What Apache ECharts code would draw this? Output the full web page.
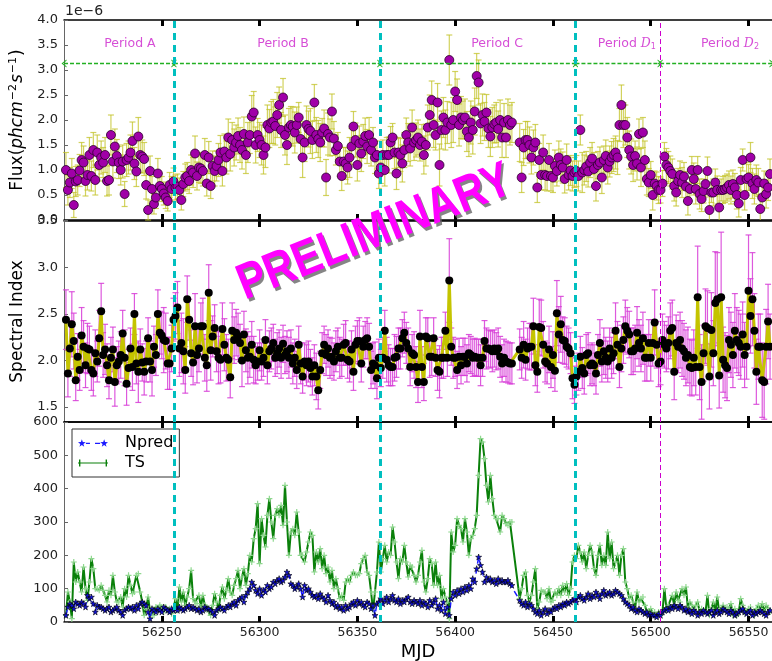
<!DOCTYPE html>
<html>
<head>
<meta charset="utf-8">
<script src="https://cdn.jsdelivr.net/npm/echarts@6/dist/echarts.min.js"></script>
<style>
  html, body { margin: 0; padding: 0; background: #fff; }
  #chart { width: 772px; height: 661px; }
</style>
</head>
<body>
<div id="chart"></div>
<script>
// daily bins, first bin at MJD 56201
const mjdStart = 56201;

// photon flux, units of 1e-6 ph cm^-2 s^-1
const fluxValues = [
  1.0,0.6,0.75,0.93,0.3,0.77,0.8,0.99,1.2,1.15, 0.78,0.9,1.3,0.88,1.4,0.8,1.35,1.1,1.25,1.15,
  1.3,0.78,0.8,1.7,1.17,1.47,1.28,1.15,1.0,1.17, 0.52,1.2,1.25,1.35,1.58,1.13,0.97,1.67,1.3,1.27,
  1.22,0.7,0.2,0.98,0.62,0.32,0.45,0.93,0.68,0.62, 0.53,0.45,0.38,0.7,0.62,0.77,0.65,0.67,0.6,0.4,
  0.72,0.85,0.88,0.78,1.0,0.95,1.33,0.88,1.05,1.03,0.98, 1.3,0.73,1.25,0.68,1.08,0.98,1.08,1.2,1.35,0.98,1.37,
  1.25,1.65,1.32,1.6,1.45,1.55,1.68,1.5,1.4,1.72,1.3,1.55,1.7, 2.07,2.15,
  1.5,1.7,1.6,
  1.5,1.3,1.45,1.9,1.83,1.95,1.97,1.88,2.1,2.3, 1.8,2.45,1.7,1.5,1.85,1.9,1.87,1.75,1.9,2.05,1.62,
  1.25,1.55,1.9,1.82,1.78,1.6,2.35,1.7,1.62,1.55,1.75, 1.83,0.85,1.72,1.65,2.17,1.63,1.4,1.48,1.17,0.88,1.17,
  1.13,1.05,1.25,1.47,1.87,1.6,1.1,1.53,1.33,1.57,1.68, 1.47,1.7,1.4,1.55,1.25,
  1.3,0.93,1.05,1.3,1.0,1.3,1.3,1.55,1.65,1.35, 0.93,1.35,1.3,1.13,1.4,1.7,1.55,1.43,1.85,1.55,
  1.6,1.65,1.5,1.57,1.3,1.5,1.85,2.1,2.4,1.9, 1.7,2.35,1.1,1.8,2.05,1.8,1.95,3.2,1.9,2.0,
  2.57,2.4,1.9,2.05,2.0,2.05,1.77,1.65,1.95,1.8, 2.17,2.88,2.75,1.93,2.1,1.97,2.15,1.83,1.67,1.85,
  1.92,1.95,1.82,2.0,1.65,1.95,
  1.65,2.0,1.9,1.95,null,null,null,1.55,0.85,1.45, 1.6,1.6,1.5,1.25,1.45,1.55,0.65,1.2,0.9,1.35,
  0.9,0.88,1.2,0.88,0.85,1.08,0.98,1.25,1.1,1.05, 0.82,1.2,0.9,0.99,0.88,0.95,0.98,0.88,1.8,0.95,
  1.0,1.07,0.97,1.15,1.23,1.02,0.68,1.1,1.15,0.85, 1.2,1.28,1.05,1.17,1.25,1.3,1.35,1.25,1.9,2.3,
  1.9,1.9,1.65,1.4,1.27,1.1,1.28,1.13,1.72,1.05, 1.75,1.2,0.82,0.75,0.9,0.5,0.73,0.68,0.6,0.6,
  0.73,1.27,1.1,1.05,0.98,0.92,0.68,0.55,0.78,0.9, 0.75,0.87,0.67,0.38,0.62,1.0,0.82,0.62,1.0,0.52,
  0.42,0.58,0.72,0.98,0.2,0.55,0.55,0.75,0.6,0.25, 0.6,0.6,0.62,0.65,0.7,0.6,0.72,0.65,0.5,0.33,
  0.8,1.2,0.5,0.82,0.85,1.25,0.73,0.62,0.8,0.75, 0.22,0.45,0.73,0.52,0.65,0.92
];
const fluxErrors = [
  0.35,0.3,0.3,0.3,0.25,0.3,0.3,0.32,0.35,0.33, 0.3,0.3,0.35,0.3,0.35,0.3,0.35,0.32,0.33,0.3,
  0.35,0.3,0.3,0.4,0.33,0.35,0.33,0.32,0.3,0.33, 0.25,0.33,0.33,0.35,0.38,0.32,0.3,0.38,0.35,0.33,
  0.33,0.28,0.2,0.3,0.25,0.2,0.22,0.3,0.25,0.25, 0.23,0.22,0.2,0.25,0.25,0.27,0.25,0.25,0.24,0.2,
  0.25,0.27,0.27,0.25,0.3,0.3,0.35,0.28,0.3,0.3, 0.3,0.33,0.25,0.32,0.25,0.3,0.3,0.3,0.33,0.34,
  0.3,0.35,0.33,0.37,0.34,0.35,0.37,0.35,0.36,0.35, 0.38,0.34,0.37,0.4,0.37,0.42,0.42,
  0.36,0.33,0.35,0.4,0.38,0.4,0.4,0.38,0.42,0.44, 0.38,0.45,0.36,0.35,0.38,0.4,0.39,0.38,0.37,0.39,
  0.41,0.36,0.3,0.35,0.4,0.38,0.38,0.36,0.45,0.37, 0.36,0.35,0.37,0.38,0.28,0.37,0.36,0.42,0.37,0.35,
  0.34,0.3,0.27,0.3,0.29,0.28,0.32,0.33,0.4,0.36, 0.3,0.34,0.32,0.35,0.36,0.34,0.36,0.34,0.35,0.32,
  0.3,0.32,0.28,0.3,0.32,0.3,0.32,0.35,0.36,0.32, 0.28,0.32,0.32,0.3,0.33,0.37,0.35,0.34,0.38,0.35,
  0.35,0.36,0.34,0.35,0.32,0.34,0.38,0.42,0.45,0.4, 0.38,0.45,0.3,0.38,0.42,0.38,0.4,0.4,0.42,0.5,
  0.45,0.45,0.4,0.42,0.42,0.42,0.38,0.37,0.4,0.38, 0.43,0.48,0.47,0.45,0.45,0.4,0.42,0.38,0.36,0.38,
  0.4,0.4,0.38,0.4,0.36,0.4,0.4,0.38,
  0.4,0.42,0.4,0.4,0,0,0,0.38,0.3,0.36, 0.37,0.37,0.36,0.33,0.35,0.36,0.3,0.33,0.3,0.35,
  0.3,0.3,0.33,0.3,0.3,0.32,0.3,0.33,0.32,0.31, 0.28,0.32,0.3,0.3,0.3,0.3,0.31,0.3,0.3,0.4,
  0.3,0.3,0.31,0.3,0.32,0.33,0.3,0.27,0.31,0.32, 0.28,0.32,0.33,0.31,0.32,0.33,0.33,0.34,0.33,0.4,
  0.45,0.4,0.4,0.38,0.35,0.33,0.3,0.33,0.3,0.38, 0.3,0.38,0.32,0.28,0.27,0.3,0.25,0.28,0.27,0.26,
  0.26,0.28,0.33,0.32,0.3,0.3,0.3,0.27,0.25,0.28, 0.3,0.28,0.3,0.28,0.24,0.27,0.32,0.3,0.27,0.3,
  0.25,0.24,0.26,0.28,0.3,0.2,0.27,0.27,0.28,0.27, 0.22,0.27,0.27,0.27,0.28,0.28,0.28,0.28,0.28,0.27,
  0.25,0.22,0.3,0.33,0.26,0.3,0.3,0.3,0.3,0.28, 0.28,0.22,0.25,0.28,0.26,0.3
];

// photon spectral index
const indexValues = [
  2.44,1.86,2.13,2.39,2.21,1.79,2.04,1.9,2.27,2.15, 1.95,2.13,2.12,1.9,1.86,2.08,1.99,2.24,2.53,
  2.06,2.12,1.95,1.79,2.03,2.12,1.77,1.95,1.99, 2.06,2.29,2.03,1.75,1.92,2.13,1.93,2.5,1.97,
  1.88,2.12,1.98,1.88,1.99,2.24,1.99,1.9,2.15, 2.06,2.5,2.3,2.27,2.22,2.21,1.97,1.97,2.13,2.44,
  2.48,2.57,2.13,2.19,2.1,1.9,2.66,2.44,2.08, 1.98,2.37,2.06,2.13,2.37,2.37,2.03,1.95,2.73,
  2.11,2.26,2.35,2.1,2.03,2.01,2.34,2.17,2.03,2.01, 1.82,2.32,2.22,2.3,2.26,2.19,2.0,2.28,2.11,
  2.03,2.04,2.17,2.01,
  1.95,1.99,2.11,1.99,2.03,2.22,1.95,2.1,2.13, 2.19,2.03,2.08,2.13,2.03,2.18,2.06,2.1,2.03,
  2.13,1.97,2.03,1.9,2.17,1.97,1.83,1.99,1.95, 1.99,1.92,1.83,1.95,1.83,1.68,1.9,2.08,2.17,2.06,
  2.13,2.03,2.04,1.99,2.1,2.15,2.03,2.03,2.17, 2.19,2.01,1.99,2.12,1.88,2.17,2.21,2.21,1.97,
  2.15,2.22,2.24,2.15,1.9,1.97,1.95,1.81,2.03,1.92, 2.03,2.32,2.01,1.95,1.93,1.93,2.03,2.04,2.13,
  2.13,2.24,2.3,2.19,2.13,1.93,2.08,2.06,1.93,1.77, 2.26,1.93,1.77,2.26,2.24,2.04,2.04,2.24,2.03,
  1.9,1.88,2.03,2.03,2.32,2.03,2.86,2.15,2.03,2.03, 1.9,2.04,1.95,2.04,2.04,1.97,2.08,2.06,
  2.03,2.04,2.03,2.03,1.95,2.03,2.21,2.13, 2.13,2.12,2.1,2.13,2.1,2.13,2.04,1.97,2.03,
  1.99,1.98,1.97,1.97,null,null,null,2.12,2.03,2.17, 2.01,2.13,2.15,2.15,2.37,1.95,1.88,2.36,2.35,2.17,
  1.99,1.97,2.12,1.93,2.06,1.89,2.51,2.28,2.39,2.22, 2.21,2.15,2.13,2.08,1.81,1.74,1.83,1.88,2.04,1.92,
  1.86,2.06,2.08,1.95,1.97,1.95,1.86,2.06,2.19,1.99, 2.1,2.03,1.99,2.13,2.03,2.08,2.32,2.17,1.93,2.13,
  2.22,2.37,2.32,2.28,2.1,2.1,2.13,2.3,2.19,2.13, 2.24,2.03,2.03,2.19,2.03,2.19,2.41,2.17,1.97,1.99,
  2.22,2.17,2.13,2.19,2.32,2.35,1.88,2.19,2.15,2.22, 2.13,2.1,2.03,2.06,1.93,1.92,2.03,1.93,2.68,1.93,
  1.77,2.08,2.37,2.35,1.83,2.33,2.08,2.62,2.66,1.84, 2.68,2.01,1.95,1.92,2.22,2.17,2.06,2.32,2.22,2.19,
  2.15,2.28,2.06,2.15,2.75,2.48,2.66,2.32,1.88,2.15, 2.15,1.79,1.77,2.15,2.42,2.15
];
const indexErrors = [
  0.32,0.25,0.3,0.35,0.3,0.22,0.25,0.22,0.3,0.28, 0.24,0.27,0.25,0.22,0.24,0.25,0.22,0.3,0.3,0.24,
  0.27,0.23,0.2,0.22,0.24,0.26,0.2,0.22,0.25,0.25, 0.3,0.23,0.2,0.22,0.25,0.22,0.22,0.33,0.22,0.2,
  0.25,0.22,0.22,0.22,0.28,0.22,0.22,0.26,0.23,0.25, 0.35,0.3,0.28,0.28,0.25,0.23,0.25,0.28,0.3,0.32,
  0.35,0.25,0.25,0.22,0.25,0.24,0.35,0.3,0.25,0.25, 0.3,0.25,0.28,0.3,0.32,0.22,0.25,0.22,0.28,0.25,
  0.28,0.28,0.25,0.22,0.22,0.3,0.25,0.25,0.25,0.2, 0.28,0.25,0.23,0.28,0.22,0.25,0.25,
  0.2,0.2,0.22,0.2,0.2,0.22,0.2,0.22,0.22,0.2, 0.2,0.22,0.2,0.22,0.2,0.2,0.22,0.22,0.2,0.22,
  0.2,0.2,0.2,0.22,0.18,0.2,0.22,0.22,0.2,0.2, 0.22,0.25,0.2,0.2,0.22,0.2,0.22,0.2,0.22,0.2,
  0.2,0.22,0.2,0.22,0.2,0.22,0.24,0.2,0.22,0.2, 0.2,0.2,0.22,0.25,0.2,0.22,0.2,0.22,0.25,0.2,
  0.22,0.25,0.22,0.2,0.2,0.22,0.22,0.24,0.22,0.2, 0.2,0.25,0.22,0.22,0.22,0.2,0.22,0.22,0.22,0.2,
  0.2,0.25,0.22,0.22,0.28,0.22,0.2,0.2,0.22,0.22, 0.2,0.22,0.2,0.22,0.28,0.22,0.22,0.2,0.2,0.45,
  0.2,0.22,0.2,0.2,0.2,0.2,0.2,0.2,0.2,0.2, 0.2,0.2,0.2,0.2,0.2,0.22,0.2,0.22,0.22,0.2,
  0.2,0.22,0.2,0.2,0.22,0.22,0.2,0.2,
  0.22,0.22,0.22,0.22,0,0,0,0.22,0.22,0.25, 0.22,0.22,0.25,0.25,0.3,0.22,0.22,0.3,0.3,0.25,
  0.22,0.22,0.25,0.22,0.25,0.22,0.35,0.3,0.3,0.25, 0.25,0.22,0.22,0.22,0.22,0.2,0.2,0.2,0.22,0.22,
  0.22,0.22,0.22,0.22,0.22,0.22,0.22,0.22,0.25,0.22, 0.25,0.22,0.22,0.22,0.22,0.22,0.3,0.25,0.22,0.25,
  0.25,0.28,0.25,0.25,0.25,0.25,0.25,0.28,0.25,0.25, 0.28,0.25,0.25,0.25,0.25,0.25,0.35,0.25,0.25,0.25,
  0.28,0.25,0.25,0.28,0.3,0.3,0.3,0.3,0.28,0.3, 0.3,0.3,0.3,0.3,0.3,0.3,0.3,0.3,0.55,0.35,
  0.4,0.3,0.4,0.4,0.35,0.4,0.35,0.55,0.5,0.35, 0.7,0.35,0.35,0.35,0.35,0.35,0.35,0.4,0.35,0.35,
  0.35,0.35,0.35,0.35,0.6,0.4,0.5,0.4,0.35,0.35, 0.35,0.4,0.4,0.4,0.4,0.35
];

// predicted counts and test statistic
const npredValues = [
  20,45,55,50,40,60,55,50,60,55,45, 80,70,75,55,30,50,45, 45,40,35,40,45,30,35,40,45,35,
  30,20,35,40,45,40,45,35,50,40, 55,60,55,50,30,10,40, 35,30,40,35,30,45,40,35,30,40,35,
  40,35,45,40,35,40,45,50,40,45,40,35,40,30,35,45,40, 40,35,30,20,35,40,45,40,35,45,
  50,45,55,60,50,65,70,75,60,80, 90,100,120,110,
  95,85,100,80,95,90,110,100, 105,120,115,125,130,120,125,135,150,140,
  115,110,100,105,115,100,75,110,95,100, 90,80,75,80,70,85,75,70,60,80,
  65,55,60,45,50,40,45,35,50,40, 45,55,60,50,65,55,60,50,45,60, 55,40,50,20,55,
  60,70,55,65,75,60,70,80,65,60, 70,55,65,60,70,75,60,55,65,60, 55,65,50,60,55,45,65,50,60,70,
  40,50,35,60,25,45,20, 70,90,80,95,85,100,90,105,95,110, 100,130,120,160,195,170,150,120,
  135,125,130,120,125,115,130,120,125,120,
  120,125,115,110,null,null,null, 65,55,50,60,45,55, 50,40,30,25,35,20,30,40,25,35,
  30,40,45,40,50,45,55,50,60,55, 60,65,70,60,75,80,70,65,75,85, 70,80,75,90,80,70,85,95,80,85,
  90,80,85,95,90,85,80,70,60,55, 50,40,45,35,30,40,35,30,25,30, 20,25,20,20,15,25,20,30,35,40,
  35,45,40,50,45,40,50,45,35,40, 30,35,25,35,30,20,30,25,35,30, 25,30,35,20,30,35,25,30,40,35,
  30,25,35,30,20,25,30,35,40,30, 25,30,35,20,30,25,30,35,30,25,20,30,35
];
const tsValues = [
  20,90,60,10,180,120,150,120,90,165, 100,65,120,190,160,100,100,95,110,
  95,80,60,95,80,140,90,60,60,75, 45,100,75,140,110,85,90,140,145,
  90,60,20,40,75,30,20,20,45,40, 50,45,30,45,35,40,25,40,70,
  35,105,60,90,50,75,100,155,70,60, 55,80,45,80,50,45,30,20,50,85,
  60,35,80,105,70,95,130,90,80,110, 130,155,100,135,160,110,145,200,180,250,
  280, 355,175,310,260,225,320,370,300,250,320,340, 320,350,290,410,300,200,270,280,260,330,270,
  200,200,180,210,240,270,260,150,210,180,220, 160,200,145,165,120,155,100,130,100,70,80,
  65,120,130,120,140,150,140,140,145,175,190, 200,150,140,90,35,90,150,240,150,
  190,230,180,210,200,285,240,180,130, 190,180,230,180,135,170,165,140,120,
  140,180,215,120,90,130,190,175,110, 180,110,140,70,100,75,60,10,
  270,210,230,310,290,280,240,310, 270,200,250,260,280,320,440,550,540,490,
  410,360,440,370,320,310,310,270,320,310,
  295,290,300,300,null,null,null,70,100,140, 150,80,60,80,120,160,40,60,95,90,
  90,70,100,60,65,90,80,100,80,110, 90,115,80,100,180,200,190,230,210,180,
  210,160,200,230,210,160,140,200,230,170, 200,170,270,190,240,160,180,200,140,200,
  220,120,100,70,80,60,40,90,60,70, 75,50,30,30,40,25,30,20,30,20,
  30,100,40,50,45,80,50,90,65,60, 100,80,105,40,60,50,40,50,60,30,
  40,35,30,80,20,40,60,30,75,30, 40,50,40,45,40,55,20,40,20,30,
  70,50,30,30,40,45,30,20,40,50, 40,55,30,50,40,30
];

// ticks and annotations
const mjdTicks = [56250, 56300, 56350, 56400, 56450, 56500, 56550];
const fluxTicks = [0, 0.5, 1.0, 1.5, 2.0, 2.5, 3.0, 3.5, 4.0];
const indexTicks = [1.5, 2.0, 2.5, 3.0, 3.5];
const countTicks = [0, 100, 200, 300, 400, 500, 600];
const cyanLines = [56256.2, 56361.5, 56461.5];
const dLine = 56504.8;
const periodEdges = [56200, 56256.2, 56361.5, 56461.5, 56504.8, 56562];
const periodNames = ['Period A', 'Period B', 'Period C', 'Period {i|D}{s|1}', 'Period {i|D}{s|2}'];
const periodLabelX = [56233.7, 56312, 56421.4, 56487.8, 56540.5];
const periodLabelY = 3.52;
const arrowY = 3.13;

const font = 'DejaVu Sans';
const starPath = 'path://M5,0L6.2,3.6L10,3.6L6.9,5.8L8.1,9.5L5,7.2L1.9,9.5L3.1,5.8L0,3.6L3.8,3.6Z';
const plusPath = 'path://M4,0H6V4H10V6H6V10H4V6H0V4H4Z';
const chevron = 'path://M0,10L5,0L10,10L8.4,10L5,3.2L1.6,10Z';
// legend icons drawn like matplotlib: marker at both ends of the line sample
const npredIcon = 'path://M4,1L4.94,3.71L7.8,3.76L5.52,5.49L6.35,8.24L4,6.6L1.65,8.24L2.48,5.49L0.2,3.76L3.06,3.71Z' +
  'M26,1L26.94,3.71L29.8,3.76L27.52,5.49L28.35,8.24L26,6.6L23.65,8.24L24.48,5.49L22.2,3.76L25.06,3.71Z' +
  'M8,4.3H12V5.7H8Z M17,4.3H22V5.7H17Z';
const tsIcon = 'path://M0,4.4H30V5.6H0Z M1,1.5H2.4V8.5H1Z M27.6,1.5H29V8.5H27.6Z';
const arrowGreen = '#22b022';

const mjd = fluxValues.map((_, i) => mjdStart + i);
function withErr(vals, errs) {
  const out = [];
  vals.forEach((v, i) => { if (v != null) out.push([mjd[i], v, errs[i]]); });
  return out;
}
function pairs(vals) {
  return vals.map((v, i) => [mjd[i], v]);
}

function errBars(color) {
  return function (params, api) {
    const x = api.value(0), y = api.value(1), e = api.value(2);
    const cs = params.coordSys;
    const hi = api.coord([x, y + e]), lo = api.coord([x, y - e]);
    const top = Math.max(hi[1], cs.y), bot = Math.min(lo[1], cs.y + cs.height);
    const st = { stroke: color, lineWidth: 1.2 };
    const kids = [{ type: 'line', shape: { x1: hi[0], y1: top, x2: hi[0], y2: bot }, style: st }];
    if (hi[1] >= cs.y) kids.push({ type: 'line', shape: { x1: hi[0] - 3, y1: hi[1], x2: hi[0] + 3, y2: hi[1] }, style: st });
    if (lo[1] <= cs.y + cs.height) kids.push({ type: 'line', shape: { x1: lo[0] - 3, y1: lo[1], x2: lo[0] + 3, y2: lo[1] }, style: st });
    return { type: 'group', children: kids };
  };
}

function xAx(grid, pos, showLabels) {
  return {
    type: 'value', gridIndex: grid, position: pos, min: 56200, max: 56562,
    axisLine: { show: true, onZero: false, lineStyle: { color: '#000', width: 1.5 } },
    axisTick: { show: true, inside: true, length: 6, customValues: mjdTicks, lineStyle: { color: '#000', width: 3 } },
    axisLabel: {
      show: showLabels, customValues: mjdTicks, formatter: v => String(v),
      fontSize: 12.5, color: '#222', fontFamily: font, margin: 4
    },
    splitLine: { show: false }
  };
}
function yAx(grid, min, max, ticks, fmt, name, nameStyle) {
  return {
    type: 'value', gridIndex: grid, min: min, max: max,
    axisLine: { show: true, lineStyle: { color: '#666', width: 1 } },
    axisTick: { show: true, inside: true, length: 4, customValues: ticks, lineStyle: { color: '#666' } },
    axisLabel: { customValues: ticks, formatter: fmt, fontSize: 13, color: '#222', fontFamily: font, margin: 6 },
    splitLine: { show: false },
    name: name, nameLocation: 'middle', nameRotate: 90, nameGap: 33,
    nameTextStyle: nameStyle
  };
}

function vLines() {
  return {
    silent: true, symbol: 'none', animation: false, label: { show: false },
    data: cyanLines.map(x => ({ xAxis: x, lineStyle: { color: '#00bfbf', width: 3, type: [7, 5] } }))
      .concat([{ xAxis: dLine, lineStyle: { color: '#cc00cc', width: 1, type: [5, 3] } }])
  };
}

// one dashed double-headed arrow per period, drawn as a short line series
const arrowSeries = [];
for (let i = 0; i < periodEdges.length - 1; i++) {
  arrowSeries.push({
    type: 'line', name: 'arrow' + i, xAxisIndex: 0, yAxisIndex: 0, silent: true, z: 4,
    symbol: chevron, symbolSize: [8, 5], showSymbol: true,
    itemStyle: { color: arrowGreen },
    lineStyle: { color: arrowGreen, width: 1.3, type: [4, 2] },
    data: [
      { value: [periodEdges[i], arrowY], symbolRotate: 90 },
      { value: [periodEdges[i + 1], arrowY], symbolRotate: -90 }
    ]
  });
}

const watermarkFont = 'bold 50px "Liberation Sans"';

const chart = echarts.init(document.getElementById('chart'));
chart.setOption({
  animation: false,
  backgroundColor: '#fff',
  grid: [
    { left: 64, right: 0, top: 20, height: 200, outerBoundsMode: 'none' },
    { left: 64, right: 0, top: 221, height: 201, outerBoundsMode: 'none' },
    { left: 64, right: 0, top: 422, height: 200, outerBoundsMode: 'none' }
  ],
  xAxis: [
    xAx(0, 'bottom', false), xAx(0, 'top', false),
    xAx(1, 'bottom', false), xAx(1, 'top', false),
    Object.assign(xAx(2, 'bottom', true), {
      name: 'MJD', nameLocation: 'middle', nameGap: 21,
      nameTextStyle: { fontSize: 18, fontFamily: font, color: '#000' }
    }),
    xAx(2, 'top', false)
  ],
  yAxis: [
    yAx(0, 0, 4, fluxTicks, v => v.toFixed(1), '{t|Flux(}{m|phcm}{u|\u22122}{m|s}{u|\u22121}{t|)}', {
      rich: {
        t: { fontSize: 17, fontFamily: font, color: '#000' },
        m: { fontSize: 17, fontFamily: font, fontStyle: 'italic', color: '#000' },
        u: { fontSize: 11, fontFamily: font, color: '#000', padding: [0, 1, 10, 1] }
      }
    }),
    yAx(1, 1.34, 3.5, indexTicks, v => v.toFixed(1), 'Spectral Index', { fontSize: 17, fontFamily: font, color: '#000' }),
    yAx(2, 0, 600, countTicks, v => String(v), '', {})
  ],
  legend: {
    data: [
      { name: 'Npred', icon: npredIcon, itemStyle: { color: '#1a1aff', borderWidth: 0 } },
      { name: 'TS', icon: tsIcon, itemStyle: { color: '#0a800a', borderWidth: 0 } }
    ],
    orient: 'vertical', left: 72, top: 429,
    itemWidth: 30, itemHeight: 10, itemGap: 4, padding: [6, 6, 6, 6],
    borderColor: '#333', borderWidth: 1, backgroundColor: '#fff', borderRadius: 0,
    textStyle: { fontSize: 16, fontFamily: font, color: '#000', padding: [0, 4, 0, 12] }
  },
  graphic: [
    { type: 'text', left: 65, top: 4, style: { text: '1e\u22126', fontSize: 14, fontFamily: font, fill: '#222' } },
    { type: 'text', x: 377, y: 236, rotation: 0.38, scaleX: 0.85, z: 100,
      style: { text: 'PRELIMINARY', font: watermarkFont, fill: '#666', align: 'center', verticalAlign: 'middle', opacity: 0.8 } },
    { type: 'text', x: 375, y: 233, rotation: 0.38, scaleX: 0.85, z: 101,
      style: { text: 'PRELIMINARY', font: watermarkFont, fill: '#ff00ff', align: 'center', verticalAlign: 'middle' } }
  ],
  series: [
    {
      type: 'custom', name: 'fluxErr', xAxisIndex: 0, yAxisIndex: 0, silent: true,
      renderItem: errBars('rgba(195,195,40,0.75)'), data: withErr(fluxValues, fluxErrors), z: 2
    },
    {
      type: 'scatter', name: 'Flux', xAxisIndex: 0, yAxisIndex: 0, symbol: 'circle', symbolSize: 9,
      itemStyle: { color: '#a000a8', borderColor: '#2a002a', borderWidth: 0.8, opacity: 1 },
      data: pairs(fluxValues).filter(d => d[1] != null), z: 3, markLine: vLines()
    },
    {
      type: 'scatter', name: 'periods', xAxisIndex: 0, yAxisIndex: 0, symbolSize: 0.01, silent: true,
      itemStyle: { color: 'rgba(0,0,0,0)' },
      label: {
        show: true, position: 'inside', formatter: p => p.name, color: '#cc22cc', fontSize: 12.5, fontFamily: font,
        rich: {
          i: { fontSize: 12.5, fontStyle: 'italic', fontFamily: 'DejaVu Serif', color: '#cc22cc' },
          s: { fontSize: 8, fontFamily: font, color: '#cc22cc', padding: [6, 0, 0, 0] }
        }
      },
      data: periodNames.map((n, i) => ({ name: n, value: [periodLabelX[i], periodLabelY] }))
    },
    ...arrowSeries,
    {
      type: 'custom', name: 'indexErr', xAxisIndex: 2, yAxisIndex: 1, silent: true,
      renderItem: errBars('rgba(215,60,215,0.85)'), data: withErr(indexValues, indexErrors), z: 2
    },
    {
      type: 'line', name: 'Index', xAxisIndex: 2, yAxisIndex: 1, symbol: 'circle', symbolSize: 8,
      showAllSymbol: true, connectNulls: true,
      itemStyle: { color: '#000' }, lineStyle: { color: '#c4c400', width: 3 },
      data: pairs(indexValues), z: 3, markLine: vLines()
    },
    {
      type: 'line', name: 'TS', xAxisIndex: 4, yAxisIndex: 2, symbol: plusPath, symbolSize: 6,
      showAllSymbol: true, connectNulls: true,
      itemStyle: { color: '#8fd88f' }, lineStyle: { color: '#0a800a', width: 2 },
      data: pairs(tsValues), z: 3, markLine: vLines()
    },
    {
      type: 'line', name: 'Npred', xAxisIndex: 4, yAxisIndex: 2, symbol: starPath, symbolSize: 6,
      showAllSymbol: true, connectNulls: true,
      itemStyle: { color: '#1010dd', borderColor: '#000', borderWidth: 0.6 },
      lineStyle: { color: '#1a1aff', width: 1.5, type: [6, 4] },
      data: pairs(npredValues), z: 4
    }
  ]
});
</script>
</body>
</html>
